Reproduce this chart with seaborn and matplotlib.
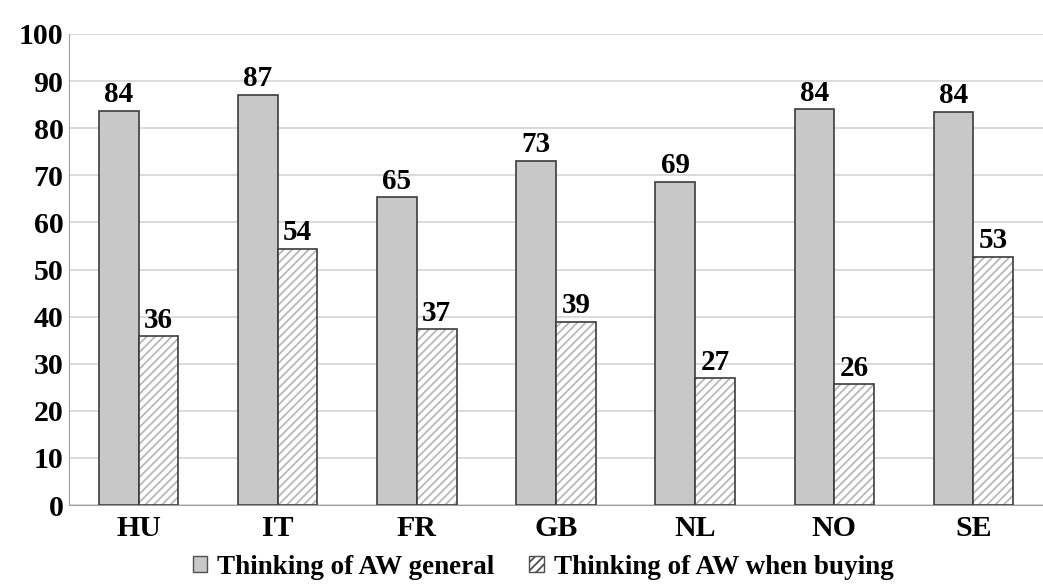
import pandas as pd
import matplotlib.pyplot as plt
import seaborn as sns
from matplotlib.patches import Patch, Rectangle

# datos
paises = ['HU', 'IT', 'FR', 'GB', 'NL', 'NO', 'SE']
general = [83.6, 87.0, 65.3, 73.1, 68.6, 84.0, 83.5]
comprando = [35.8, 54.3, 37.3, 38.9, 26.9, 25.6, 52.6]
series = ['Thinking of AW general', 'Thinking of AW when buying']

df = pd.DataFrame({
    'pais': paises * 2,
    'valor': general + comprando,
    'serie': [series[0]] * len(paises) + [series[1]] * len(paises),
})

sns.set_style('white')
plt.rcParams['font.family'] = ['Liberation Serif', 'DejaVu Serif']
plt.rcParams['font.weight'] = 'bold'
plt.rcParams['text.color'] = 'black'
plt.rcParams['xtick.color'] = 'black'
plt.rcParams['ytick.color'] = 'black'
plt.rcParams['hatch.linewidth'] = 1.3

fig = plt.figure(figsize=(10.43, 5.84), dpi=100)
ax = fig.add_axes([69 / 1043, 1 - 505 / 584, 974 / 1043, 471 / 584])

sns.barplot(data=df, x='pais', y='valor', hue='serie', order=paises, hue_order=series,
            palette=['#c8c8c8', 'white'], width=0.57, gap=0, edgecolor='#3c3c3c',
            linewidth=1.2, legend=False, ax=ax, zorder=3)

# rayado gris claro con borde oscuro encima
for p in ax.containers[1]:
    p.set_hatch('////')
    p.set_edgecolor('#b8b8b8')
    p.set_linewidth(0)
    ax.add_patch(Rectangle(p.get_xy(), p.get_width(), p.get_height(), fill=False,
                           edgecolor='#3c3c3c', linewidth=1.2, zorder=4))

for cont in ax.containers:
    ax.bar_label(cont, labels=[f'{v:.0f}' for v in cont.datavalues], padding=2,
                 fontsize=21, fontweight='bold')

ax.set_ylim(0, 100)
ax.set_xlim(-0.5, -0.5 + 974 / 141)
ax.set_yticks(range(0, 101, 10))
ax.yaxis.grid(True, color='#d4d4d4', linewidth=1.2, zorder=0)
ax.set_axisbelow(True)
ax.set_xlabel('')
ax.set_ylabel('')
for s in ['top', 'right']:
    ax.spines[s].set_visible(False)
ax.spines['left'].set_color('#a0a0a0')
ax.spines['bottom'].set_color('#a0a0a0')
ax.tick_params(axis='x', length=0, labelsize=21.5, pad=7)
ax.tick_params(axis='y', length=0, labelsize=21.5, pad=4)
ax.set_xticks([x + 0.5 for x in range(-1, len(paises))], minor=True)
ax.tick_params(axis='x', which='minor', length=5, color='#a0a0a0', direction='out')
for t in ax.get_xticklabels() + ax.get_yticklabels():
    t.set_fontweight('bold')

handles = [Patch(facecolor='#c8c8c8', edgecolor='#505050', label=series[0]),
           Patch(facecolor='white', edgecolor='#505050', hatch='////', label=series[1])]
fig.legend(handles=handles, loc='center', bbox_to_anchor=(543 / 1043, 1 - 567 / 584),
           ncol=2, frameon=False, fontsize=19.5, handlelength=0.55, handleheight=0.55,
           handletextpad=0.35, columnspacing=1.3, borderpad=0)

plt.savefig('out.png', dpi=100)
plt.close()
